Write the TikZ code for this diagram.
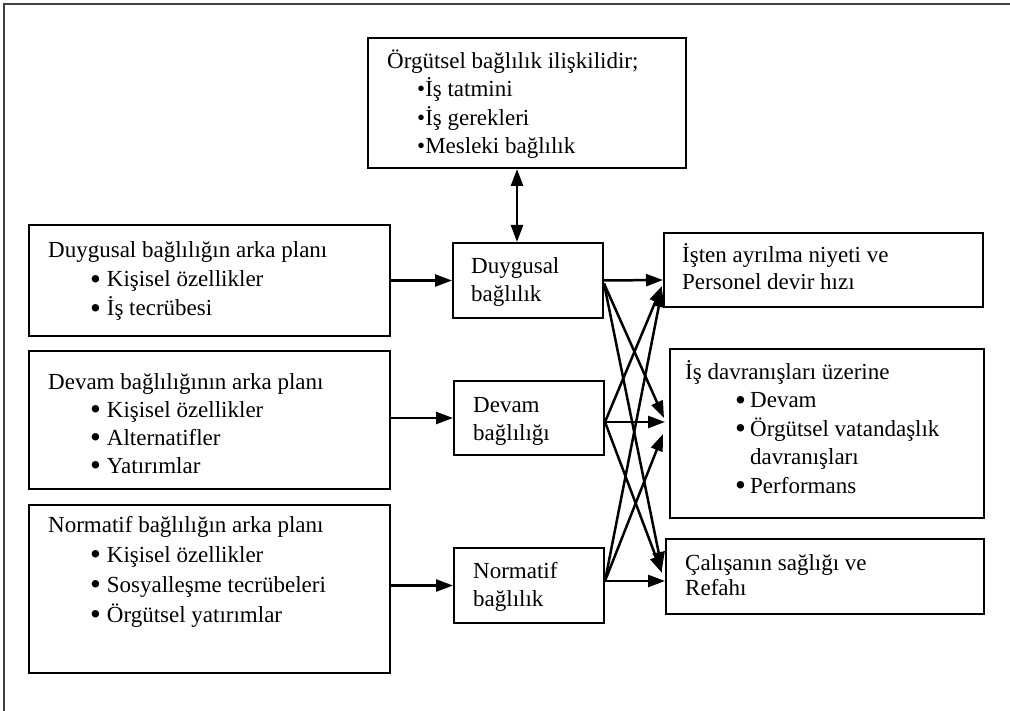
\documentclass[tikz,border=0pt]{standalone}
\usepackage{fontspec}
\setmainfont{Liberation Serif}
\usetikzlibrary{arrows.meta}
\tikzset{
  box/.style={draw=black, line width=2pt, rectangle, inner sep=0pt, anchor=north west},
  txt/.style={anchor=base west, align=left, inner sep=0pt, font=\fontsize{23}{28.5}\selectfont},
  conn/.style={line width=2.5pt, -{Triangle[length=17pt,width=12pt]}},
  frame/.style={draw=black!75, line width=1.4pt}
}
\newcommand{\bigbul}{\raisebox{-2.5pt}{\fontsize{31}{31}\selectfont •}}
\newcommand{\bul}[1]{\hspace*{42pt}\makebox[16.7pt][l]{\bigbul}#1}
\newcommand{\rbul}[1]{\hspace*{50pt}\makebox[15pt][l]{\bigbul}#1}
\begin{document}
\begin{tikzpicture}[x=1pt,y=1pt]
\useasboundingbox (0,0) rectangle (1010,-711);
\draw[frame] (4,-711) -- (4,-4) -- (1010,-4);

% boxes
\node[box, minimum width=318, minimum height=130] (top) at (367,-37) {};
\node[box, minimum width=361, minimum height=111] (b1) at (28,-224) {};
\node[box, minimum width=361, minimum height=138] (b2) at (28,-350) {};
\node[box, minimum width=361, minimum height=168] (b3) at (28,-504) {};
\node[box, minimum width=150, minimum height=75] (d) at (452,-242) {};
\node[box, minimum width=150, minimum height=74] (v) at (453,-380) {};
\node[box, minimum width=150, minimum height=75] (n) at (453,-547) {};
\node[box, minimum width=319, minimum height=74] (r1) at (663,-232) {};
\node[box, minimum width=314, minimum height=169] (r2) at (669,-348) {};
\node[box, minimum width=318, minimum height=75] (r3) at (665,-538) {};

% texts (anchored at the baseline of the last line)
\node[txt] (topt) at (387,-154) {Örgütsel bağlılık ilişkilidir;\\\hspace*{30pt}•İş tatmini\\\hspace*{30pt}•İş gerekleri\\\hspace*{30pt}•Mesleki bağlılık};
\node[txt, font=\fontsize{23}{29}\selectfont] (b1t) at (48,-316) {Duygusal bağlılığın arka planı\\\bul{Kişisel özellikler}\\\bul{İş tecrübesi}};
\node[txt, font=\fontsize{23}{28}\selectfont] (b2t) at (48,-473) {Devam bağlılığının arka planı\\\bul{Kişisel özellikler}\\\bul{Alternatifler}\\\bul{Yatırımlar}};
\node[txt, font=\fontsize{23}{30}\selectfont] (b3t) at (48,-622) {Normatif bağlılığın arka planı\\\bul{Kişisel özellikler}\\\bul{Sosyalleşme tecrübeleri}\\\bul{Örgütsel yatırımlar}};
\node[txt, font=\fontsize{23}{28}\selectfont] (dt) at (471,-302) {Duygusal\\bağlılık};
\node[txt, font=\fontsize{23}{28}\selectfont] (vt) at (473,-440) {Devam\\bağlılığı};
\node[txt, font=\fontsize{23}{28}\selectfont] (nt) at (473,-606) {Normatif\\bağlılık};
\node[txt, font=\fontsize{23}{27}\selectfont] (r1t) at (682,-290) {İşten ayrılma niyeti ve\\Personel devir hızı};
\node[txt] (r2t) at (685,-493) {İş davranışları üzerine\\\rbul{Devam}\\\rbul{Örgütsel vatandaşlık}\\\hspace*{65pt}davranışları\\\rbul{Performans}};
\node[txt, font=\fontsize{23}{25}\selectfont] (r3t) at (685,-595) {Çalışanın sağlığı ve\\Refahı};

% connectors
\draw[line width=2.5pt, {Triangle[length=17pt,width=12pt]}-{Triangle[length=17pt,width=12pt]}]
  ([xshift=-11pt]d.north |- top.south) -- ([xshift=-11pt]d.north);
\draw[conn] (b1.east |- d.west) -- (d.west);
\draw[conn] (b2.east |- v.west) -- (v.west);
\draw[conn] (b3.east |- n.west) -- (n.west);

\draw[conn] (d.east) -- ([yshift=0.5pt]r1.west |- d.east);
\draw[conn] ([yshift=-3pt]d.east) -- ([xshift=-5pt,yshift=15.5pt]r2.west);
\draw[conn] ([yshift=-3pt]d.east) -- ([xshift=-3pt,yshift=7.5pt]r3.west);

\draw[conn] ([yshift=-4pt]v.east) -- ([xshift=-1pt,yshift=-16pt]r1.west);
\draw[conn] ([yshift=-4pt]v.east) -- ([xshift=-4pt,yshift=11.5pt]r2.west);
\draw[conn] ([yshift=-4pt]v.east) -- ([xshift=-3pt,yshift=3.5pt]r3.west);

\draw[conn] ([yshift=4.5pt]n.east) -- ([xshift=-1pt,yshift=-20pt]r1.west);
\draw[conn] ([yshift=4.5pt]n.east) -- ([xshift=-6pt,yshift=-0.5pt]r2.west);
\draw[conn] ([yshift=4.5pt]n.east) -- ([xshift=0pt,yshift=-4.5pt]r3.west);
\end{tikzpicture}
\end{document}
